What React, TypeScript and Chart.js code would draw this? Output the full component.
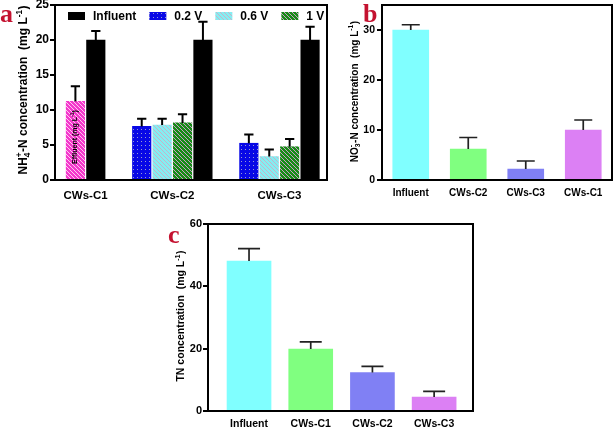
import React, { useEffect, useRef } from 'react';
import { Chart, registerables } from 'chart.js';
Chart.register(...registerables);

const FONT = "'Liberation Sans', Arial, Helvetica, sans-serif";
const SERIF = "'Liberation Serif', 'Times New Roman', serif";
const LETTER_COLOR = '#c41230';

// ---------- Panel a : NH4+-N ----------
const groupsA = ['CWs-C1', 'CWs-C2', 'CWs-C3'];
const effluentA = [11.25, null, null];
const effluentErrA = [2.15, null, null];
const v02A = [null, 7.65, 5.25];
const v02ErrA = [null, 1.1, 1.25];
const v06A = [null, 7.85, 3.35];
const v06ErrA = [null, 0.9, 1.0];
const v1A = [null, 8.15, 4.75];
const v1ErrA = [null, 1.25, 1.1];
const influentA = [20, 20, 20];
const influentErrA = [1.3, 2.6, 1.9];
const yTicksA = [0, 5, 10, 15, 20, 25];

// ---------- Panel b : NO3--N ----------
const catsB = ['Influent', 'CWs-C2', 'CWs-C3', 'CWs-C1'];
const valsB = [30, 6.2, 2.2, 10];
const errB = [1.05, 2.3, 1.6, 2.0];
const yTicksB = [0, 10, 20, 30];

// ---------- Panel c : TN ----------
const catsC = ['Influent', 'CWs-C1', 'CWs-C2', 'CWs-C3'];
const valsC = [48.1, 19.9, 12.35, 4.5];
const errC = [4.0, 2.3, 2.0, 1.8];
const yTicksC = [0, 20, 40, 60];

// layout (slot units) for panel a
const slotStartA = [1, 4.25, 9.5];
const slotMaxA = 13.33;

type Seg = { t?: string; sub?: string; sup?: string };

function makePattern(w: number, h: number, draw: (x: CanvasRenderingContext2D, w: number, h: number) => void) {
  const c = document.createElement('canvas');
  c.width = w;
  c.height = h;
  const x = c.getContext('2d')!;
  draw(x, w, h);
  return x.createPattern(c, 'repeat')!;
}

function stripes(bg: string, fg: string, s: number, lw: number) {
  return makePattern(s, s, (x, w, h) => {
    x.fillStyle = bg;
    x.fillRect(0, 0, w, h);
    x.strokeStyle = fg;
    x.lineWidth = lw;
    x.beginPath();
    x.moveTo(0, 0); x.lineTo(w, h);
    x.moveTo(-1, h - 1); x.lineTo(1, h + 1);
    x.moveTo(w - 1, -1); x.lineTo(w + 1, 1);
    x.stroke();
  });
}

function dots(bg: string, fg: string) {
  return makePattern(4, 4, (x, w, h) => {
    x.fillStyle = bg;
    x.fillRect(0, 0, w, h);
    x.fillStyle = fg;
    x.fillRect(1, 1, 1, 1);
  });
}

function drawRich(ctx: CanvasRenderingContext2D, segs: Seg[], x: number, yc: number, size: number) {
  const norm = `bold ${size}px ${FONT}`;
  const small = `bold ${(size * 0.68).toFixed(2)}px ${FONT}`;
  const widths = segs.map((s) => {
    if (s.t !== undefined) {
      ctx.font = norm;
      return ctx.measureText(s.t).width;
    }
    ctx.font = small;
    return Math.max(s.sub ? ctx.measureText(s.sub).width : 0, s.sup ? ctx.measureText(s.sup).width : 0) + 0.5;
  });
  const total = widths.reduce((a, b) => a + b, 0);
  ctx.save();
  ctx.translate(x, yc);
  ctx.rotate(-Math.PI / 2);
  ctx.fillStyle = '#000';
  ctx.textAlign = 'left';
  ctx.textBaseline = 'alphabetic';
  let cx = -total / 2;
  const base = size * 0.36;
  segs.forEach((s, i) => {
    if (s.t !== undefined) {
      ctx.font = norm;
      ctx.fillText(s.t, cx, base);
    } else {
      ctx.font = small;
      if (s.sub) ctx.fillText(s.sub, cx, base + size * 0.22);
      if (s.sup) ctx.fillText(s.sup, cx, base - size * 0.45);
    }
    cx += widths[i];
  });
  ctx.restore();
}

const framePlugin = {
  id: 'frame',
  afterDraw(chart: any) {
    const { ctx, chartArea } = chart;
    ctx.save();
    ctx.strokeStyle = '#000';
    ctx.lineWidth = 2;
    ctx.strokeRect(chartArea.left, chartArea.top, chartArea.right - chartArea.left, chartArea.bottom - chartArea.top);
    ctx.restore();
  },
};

function errorBars(color: string, lw: number) {
  return {
    id: 'errbars',
    afterDatasetsDraw(chart: any) {
      const ctx = chart.ctx;
      const ys = chart.scales.y;
      chart.data.datasets.forEach((ds: any, di: number) => {
        const meta = chart.getDatasetMeta(di);
        meta.data.forEach((el: any, i: number) => {
          const e = ds.errs ? ds.errs[i] : null;
          if (e == null) return;
          const raw = ds.data[i];
          const v = typeof raw === 'number' ? raw : raw.y;
          const yTop = ys.getPixelForValue(v + e);
          const cap = el.width * 0.5;
          ctx.save();
          ctx.strokeStyle = color;
          ctx.lineWidth = lw;
          ctx.beginPath();
          ctx.moveTo(el.x, el.y);
          ctx.lineTo(el.x, yTop);
          ctx.moveTo(el.x - cap / 2, yTop);
          ctx.lineTo(el.x + cap / 2, yTop);
          ctx.stroke();
          ctx.restore();
        });
      });
    },
  };
}

function titlePlugin(segs: Seg[], x: number, yc: number, size: number, letter: string, lx: number, ly: number) {
  return {
    id: 'ytitle',
    afterDraw(chart: any) {
      const ctx = chart.ctx;
      drawRich(ctx, segs, x, yc, size);
      ctx.save();
      ctx.font = `bold 26px ${SERIF}`;
      ctx.fillStyle = LETTER_COLOR;
      ctx.textAlign = 'left';
      ctx.textBaseline = 'alphabetic';
      ctx.fillText(letter, lx, ly);
      ctx.restore();
    },
  };
}

function yAxis(ticks: number[], max: number, size: number, width: number, padding: number) {
  return {
    type: 'linear',
    min: 0,
    max,
    afterBuildTicks: (s: any) => {
      s.ticks = ticks.map((v) => ({ value: v }));
    },
    afterFit: (s: any) => {
      s.width = width;
      s.paddingTop = 0;
      s.paddingBottom = 0;
    },
    ticks: { color: '#000', padding, font: { family: FONT, weight: 'bold', size } },
    grid: { display: true, drawOnChartArea: false, drawTicks: true, tickLength: 5, color: '#000', lineWidth: 2 },
    border: { display: false },
  };
}

function xAxis(min: number, max: number, centers: number[], labels: string[], size: number, height: number, padding: number) {
  return {
    type: 'linear',
    min,
    max,
    offset: false,
    afterBuildTicks: (s: any) => {
      s.ticks = centers.map((v) => ({ value: v }));
    },
    afterFit: (s: any) => {
      s.height = height;
      s.paddingLeft = 0;
      s.paddingRight = 0;
    },
    ticks: {
      autoSkip: false,
      maxRotation: 0,
      minRotation: 0,
      padding,
      color: '#000',
      font: { family: FONT, weight: 'bold', size },
      callback: (_v: any, i: number) => labels[i],
    },
    grid: { display: false, drawTicks: false, tickLength: 0 },
    border: { display: false },
  };
}

function buildA(): any {
  const patEff = stripes('#f438cc', '#ffc8f0', 4, 1.0);
  const pat02 = dots('#0808e6', '#9a9ad0');
  const pat06 = stripes('#84eef2', '#d4a4bc', 4, 0.8);
  const pat1 = stripes('#168c16', '#c8a0c4', 4, 1.0);
  const series = [
    { label: 'Effluent', vals: effluentA, errs: effluentErrA, fill: patEff },
    { label: '0.2 V', vals: v02A, errs: v02ErrA, fill: pat02 },
    { label: '0.6 V', vals: v06A, errs: v06ErrA, fill: pat06 },
    { label: '1 V', vals: v1A, errs: v1ErrA, fill: pat1 },
    { label: 'Influent', vals: influentA, errs: influentErrA, fill: '#000000' },
  ];
  const centers: number[] = [];
  groupsA.forEach((_g, gi) => {
    const n = series.filter((o) => o.vals[gi] != null).length;
    centers.push(slotStartA[gi] + (n - 1) / 2);
  });
  const datasets = series.map((s) => {
    const data: any[] = [];
    const errs: any[] = [];
    groupsA.forEach((_g, gi) => {
      if (s.vals[gi] == null) return;
      const present = series.filter((o) => o.vals[gi] != null);
      const k = present.indexOf(s);
      data.push({ x: slotStartA[gi] + k, y: s.vals[gi] });
      errs.push(s.errs[gi]);
    });
    return { label: s.label, data, errs, backgroundColor: s.fill, barThickness: 18.5, grouped: false, borderWidth: 0 };
  });
  const legendItems = ['Influent', '0.2 V', '0.6 V', '1 V'].map((l) => series.find((s) => s.label === l)!);
  const legendPlugin = {
    id: 'legendA',
    afterDraw(chart: any) {
      const { ctx, chartArea } = chart;
      let x = chartArea.left + 13;
      const yc = chartArea.top + 11;
      ctx.save();
      ctx.font = `bold 12px ${FONT}`;
      ctx.textBaseline = 'middle';
      ctx.textAlign = 'left';
      legendItems.forEach((it) => {
        ctx.fillStyle = it.fill;
        ctx.fillRect(x, yc - 4, 17, 8);
        x += 17 + 8;
        ctx.fillStyle = '#000';
        ctx.fillText(it.label, x, yc + 0.5);
        x += ctx.measureText(it.label).width + 13;
      });
      ctx.restore();
    },
  };
  const effText = {
    id: 'effText',
    afterDatasetsDraw(chart: any) {
      const el: any = chart.getDatasetMeta(0).data[0];
      if (!el) return;
      const ctx = chart.ctx;
      ctx.save();
      ctx.translate(el.x, (el.y + el.base) / 2 - 3);
      ctx.rotate(-Math.PI / 2);
      ctx.fillStyle = '#000';
      ctx.textBaseline = 'middle';
      const f = `bold 7px ${FONT}`;
      const fs = `bold 5px ${FONT}`;
      ctx.font = f;
      const w1 = ctx.measureText('Effluent (mg L').width;
      const w3 = ctx.measureText(')').width;
      ctx.font = fs;
      const w2 = ctx.measureText('-1').width;
      let cx = -(w1 + w2 + w3) / 2;
      ctx.font = f;
      ctx.fillText('Effluent (mg L', cx, 0);
      cx += w1;
      ctx.font = fs;
      ctx.fillText('-1', cx, -3);
      cx += w2;
      ctx.font = f;
      ctx.fillText(')', cx, 0);
      ctx.restore();
    },
  };
  return {
    type: 'bar',
    data: { datasets },
    options: {
      responsive: false,
      animation: false,
      events: [],
      layout: { padding: { top: 5, right: 3, left: 0, bottom: 0 } },
      plugins: { legend: { display: false }, tooltip: { enabled: false } },
      scales: {
        x: xAxis(0, slotMaxA, centers, groupsA, 11.5, 25, 9),
        y: yAxis(yTicksA, 25, 12, 55, 1),
      },
    },
    plugins: [
      errorBars('#000', 2),
      effText,
      framePlugin,
      legendPlugin,
      titlePlugin(
        [{ t: 'NH' }, { sub: '4', sup: '+' }, { t: '-N concentration  (mg L' }, { sup: '-1' }, { t: ')' }],
        23, 90, 12, 'a', 0, 22
      ),
    ],
  };
}

const simpleColors = ['#80ffff', '#80ff80', '#8080f4', '#dc80f4'];

function buildSimple(cats: string[], vals: number[], errs: number[], yt: number[], ymax: number, opts: any): any {
  const data = vals.map((v, i) => ({ x: i, y: v }));
  const colors = cats.map((_c, i) => simpleColors[i]);
  return {
    type: 'bar',
    data: {
      datasets: [
        { data, errs, backgroundColor: colors, barThickness: opts.barThickness, grouped: false, borderWidth: 0 },
      ],
    },
    options: {
      responsive: false,
      animation: false,
      events: [],
      layout: { padding: opts.padding },
      plugins: { legend: { display: false }, tooltip: { enabled: false } },
      scales: {
        x: xAxis(opts.xmin, opts.xmax, cats.map((_c, i) => i), cats, opts.xFont, opts.xHeight, opts.xPad),
        y: yAxis(yt, ymax, opts.yFont, opts.yWidth, opts.yPad),
      },
    },
    plugins: [errorBars('#222', 1.7), framePlugin, opts.title],
  };
}

function buildB(): any {
  return buildSimple(catsB, valsB, errB, yTicksB, 35, {
    barThickness: 36,
    padding: { top: 5, right: 2, left: 0, bottom: 0 },
    xmin: -0.5,
    xmax: 3.5,
    xFont: 10,
    xHeight: 25,
    xPad: 7,
    yFont: 10.5,
    yWidth: 52,
    yPad: 2,
    title: titlePlugin(
      [{ t: 'NO' }, { sub: '3', sup: '-' }, { t: '-N concentration  (mg L' }, { sup: '-1' }, { t: ')' }],
      24, 91.5, 10, 'b', 33, 22
    ),
  });
}

function buildC(): any {
  return buildSimple(catsC, valsC, errC, yTicksC, 60, {
    barThickness: 44,
    padding: { top: 14, right: 7, left: 0, bottom: 0 },
    xmin: -0.665,
    xmax: 3.63,
    xFont: 10.5,
    xHeight: 18,
    xPad: 7,
    yFont: 11,
    yWidth: 68,
    yPad: 1,
    title: titlePlugin(
      [{ t: 'TN concentration  (mg L' }, { sup: '-1' }, { t: ')' }],
      40.5, 106, 10.5, 'c', 28, 33
    ),
  });
}

function ChartBox({ left, top, width, height, build }: { left: number; top: number; width: number; height: number; build: () => any }) {
  const ref = useRef<HTMLCanvasElement>(null);
  useEffect(() => {
    const chart = new Chart(ref.current as HTMLCanvasElement, build());
    return () => chart.destroy();
  }, []);
  return (
    <canvas
      ref={ref}
      width={width}
      height={height}
      style={{ position: 'absolute', left, top, width, height, display: 'block' }}
    />
  );
}

export default function App() {
  return (
    <div style={{ position: 'absolute', left: 0, top: 0, width: 614, height: 429, background: '#fff', overflow: 'hidden' }}>
      <ChartBox left={0} top={0} width={330} height={205} build={buildA} />
      <ChartBox left={330} top={0} width={284} height={205} build={buildB} />
      <ChartBox left={140} top={210} width={340} height={219} build={buildC} />
    </div>
  );
}
